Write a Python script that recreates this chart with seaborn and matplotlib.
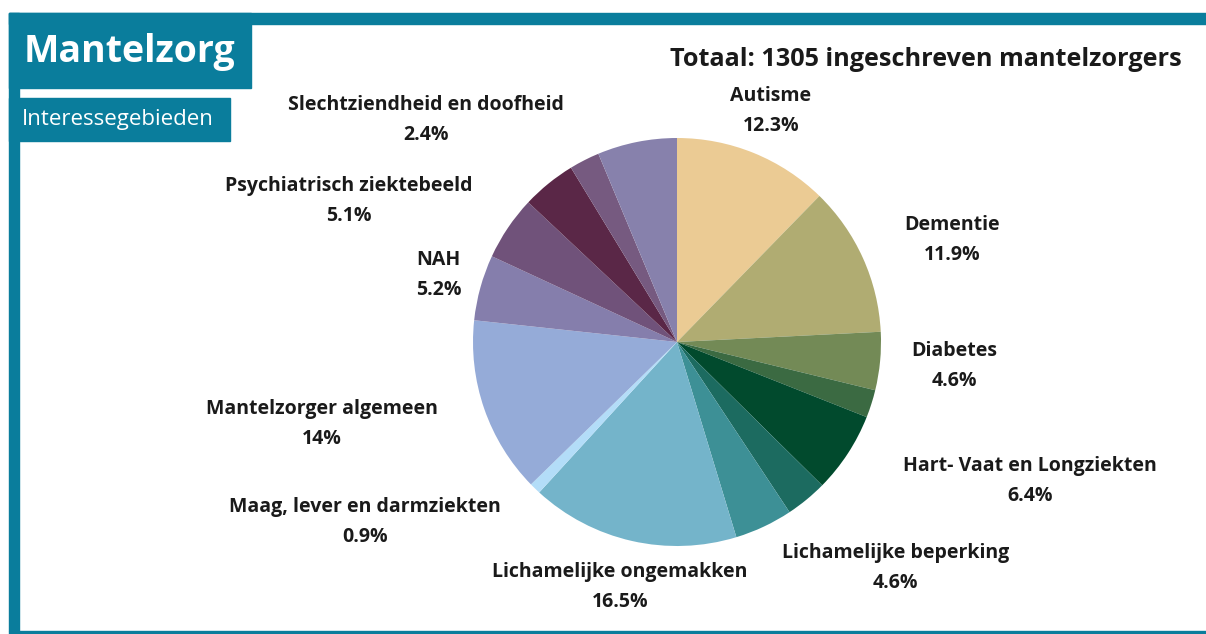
import matplotlib
matplotlib.use("Agg")
import matplotlib.pyplot as plt
import seaborn as sns
from matplotlib.patches import Rectangle

# data (clockwise from 12 o'clock); None = slice without a label in the original
categories = ["Autisme", "Dementie", "Diabetes", None, "Hart- Vaat en Longziekten",
              None, "Lichamelijke beperking", "Lichamelijke ongemakken",
              "Maag, lever en darmziekten", "Mantelzorger algemeen", "NAH",
              "Psychiatrisch ziektebeeld", None, "Slechtziendheid en doofheid", None]
shares = [12.3, 11.9, 4.6, 2.2, 6.4, 3.3, 4.6, 16.5, 0.9, 14.0, 5.2, 5.1, 4.3, 2.4, 6.3]
total = 1305

slice_colors = ["#EBCB94", "#B0AC72", "#738A56", "#3B6A42", "#014A2D",
                "#1C6B60", "#3D9096", "#74B4CA", "#B3DDF8", "#95ABD8",
                "#857EAC", "#70527A", "#5A2747", "#765A80", "#8781AC"]

# label block centres, in pie-radius units from the centre
label_pos = [(0.46, 1.13), (1.35, 0.50), (1.36, -0.12), None, (1.73, -0.68),
             None, (1.07, -1.11), (-0.28, -1.20), (-1.53, -0.88), (-1.74, -0.40),
             (-1.17, 0.33), (-1.61, 0.69), None, (-1.23, 1.09), None]

TEAL = "#0A7D9C"
W, H = 1206, 634
CX, CY, R = 677, 342, 204  # pie centre / radius in pixels

sns.set_theme(style="white")
plt.rcParams["font.family"] = ["Open Sans", "DejaVu Sans"]

fig = plt.figure(figsize=(W / 100, H / 100), dpi=100, facecolor="white")
ax = fig.add_axes([0, 0, 1, 1])
ax.axis("off")

pal = sns.color_palette(slice_colors)
ax.pie(shares, colors=pal, startangle=90, counterclock=False, radius=1,
       wedgeprops=dict(edgecolor=None, linewidth=0, antialiased=True))
ax.set_xlim(-CX / R, (W - CX) / R)
ax.set_ylim(-(H - CY) / R, CY / R)

dy = 15 / R
for name, val, pos in zip(categories, shares, label_pos):
    if name is None:
        continue
    x, y = pos
    ax.text(x, y + dy, name, ha="center", va="center", fontsize=14,
            fontweight="bold", color="#1A1A1A")
    ax.text(x, y - dy, f"{val:g}%", ha="center", va="center", fontsize=14,
            fontweight="bold", color="#1A1A1A")

# frame and title boxes (figure pixels, y from top)
def px_rect(x0, y0, x1, y1, color):
    fig.patches.append(Rectangle((x0 / W, 1 - y1 / H), (x1 - x0) / W, (y1 - y0) / H,
                                 transform=fig.transFigure, color=color, zorder=5))

px_rect(9, 13, W, 24, TEAL)
px_rect(9, 13, 19, 631, TEAL)
px_rect(9, 631, W, H, TEAL)
px_rect(9, 13, 251, 88, TEAL)
px_rect(9, 98, 230, 141, TEAL)

fig.text(24 / W, 1 - 52 / H, "Mantelzorg", color="white", fontsize=27,
         fontweight="bold", ha="left", va="center", zorder=6)
fig.text(22 / W, 1 - 120 / H, "Interessegebieden", color="white", fontsize=16,
         ha="left", va="center", zorder=6)
fig.text(1182 / W, 1 - 60 / H, f"Totaal: {total} ingeschreven mantelzorgers",
         color="#1A1A1A", fontsize=18.2, fontweight="bold", ha="right", va="center")

fig.savefig("out.png", dpi=100, facecolor="white")
